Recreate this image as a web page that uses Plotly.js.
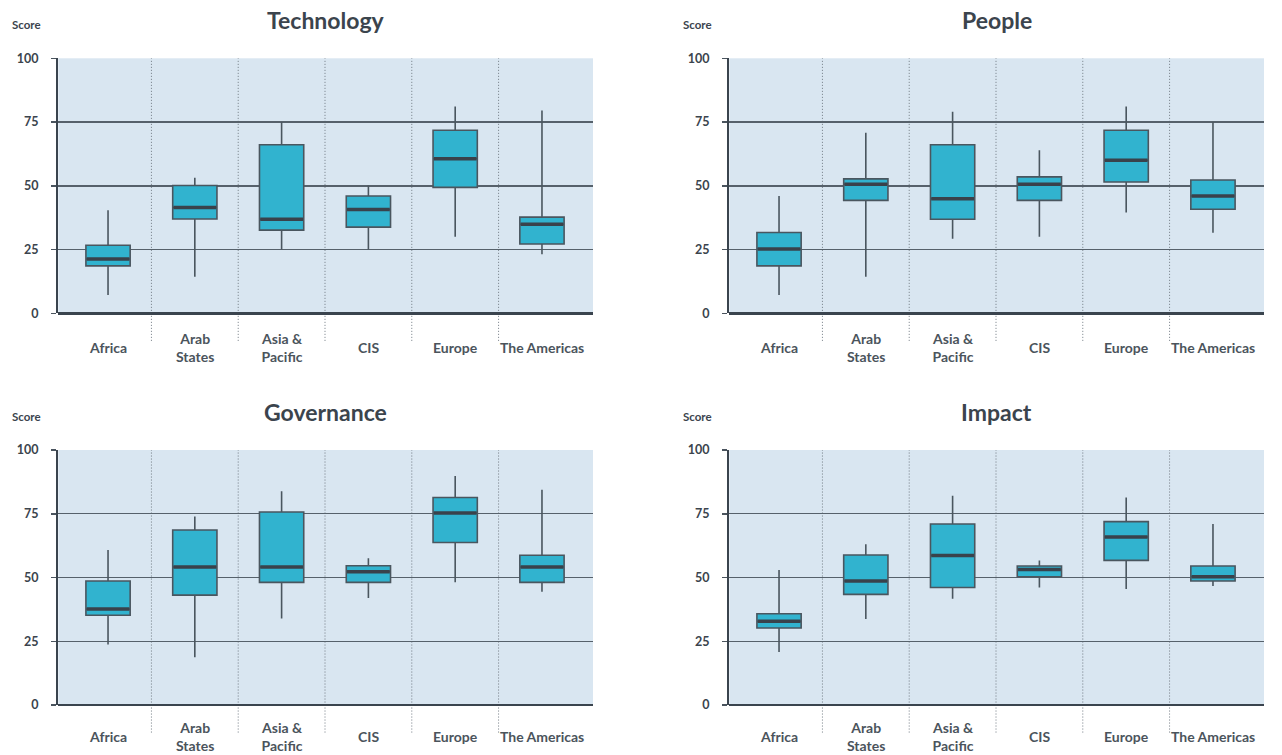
<!DOCTYPE html>
<html>
<head>
<meta charset="utf-8">
<script src="https://cdn.plot.ly/plotly-3.0.1.min.js"></script>
<style>html,body{margin:0;padding:0;background:#fff;}#chart{width:1282px;height:755px;}</style>
</head>
<body>
<div id="chart"></div>
<script>
// ---- Data ----
const regions = ["Africa", "Arab States", "Asia & Pacific", "CIS", "Europe", "The Americas"];
const regionLabels = ["Africa", "Arab<br>States", "Asia &<br>Pacific", "CIS", "Europe", "The Americas"];
const pillars = ["Technology", "People", "Governance", "Impact"];

const techMin = [7.2, 14.3, 25.0, 25.0, 30.0, 23.2];
const techQ1  = [18.6, 37.0, 32.6, 33.8, 49.4, 27.2];
const techMed = [21.3, 41.5, 36.9, 40.7, 60.6, 34.9];
const techQ3  = [26.7, 50.1, 66.1, 46.0, 71.8, 37.7];
const techMax = [40.4, 53.2, 75.0, 50.1, 81.1, 79.5];

const peopleMin = [7.2, 14.3, 29.2, 30.0, 39.5, 31.6];
const peopleQ1  = [18.6, 44.3, 36.9, 44.3, 51.5, 40.8];
const peopleMed = [25.2, 50.6, 44.9, 50.6, 60.0, 46.0];
const peopleQ3  = [31.7, 52.7, 66.1, 53.5, 71.8, 52.3];
const peopleMax = [46.0, 70.8, 79.0, 63.9, 81.1, 75.0];

const govMin = [23.7, 18.7, 33.9, 42.0, 48.1, 44.4];
const govQ1  = [35.2, 43.1, 48.1, 48.1, 63.7, 48.1];
const govMed = [37.6, 54.1, 54.1, 52.3, 75.3, 54.1];
const govQ3  = [48.6, 68.6, 75.7, 54.6, 81.4, 58.7];
const govMax = [60.8, 73.9, 83.8, 57.5, 89.8, 84.4];

const impactMin = [20.8, 33.7, 41.7, 46.1, 45.5, 46.7];
const impactQ1  = [30.2, 43.4, 46.1, 50.3, 56.7, 48.6];
const impactMed = [32.8, 48.6, 58.6, 53.1, 65.9, 50.3];
const impactQ3  = [35.8, 58.8, 71.0, 54.5, 71.9, 54.5];
const impactMax = [52.9, 63.0, 82.1, 56.7, 81.4, 71.0];

const yTicks = [0, 25, 50, 75, 100];

// ---- Build ----
const stats = [
  [techMin, techQ1, techMed, techQ3, techMax],
  [peopleMin, peopleQ1, peopleMed, peopleQ3, peopleMax],
  [govMin, govQ1, govMed, govQ3, govMax],
  [impactMin, impactQ1, impactMed, impactQ3, impactMax]
];

const FONT = "Lato, 'Open Sans', sans-serif";
const TXT = "#3b444d";
const xRange = [-0.573, 5.588];
const xDomains = [[0.04548, 0.46256], [0.56888, 0.98596], [0.04548, 0.46256], [0.56888, 0.98596]];
const yDomains = [[0.58503, 0.92278], [0.58503, 0.92278], [0.06623, 0.40397], [0.06623, 0.40397]];
const labelY = [-0.134, -0.134, -0.122, -0.122];

const traces = [];
const layout = {
  width: 1282, height: 755,
  margin: {l: 0, r: 0, t: 0, b: 0},
  paper_bgcolor: "#ffffff",
  plot_bgcolor: "#d9e6f1",
  showlegend: false,
  hovermode: false,
  font: {family: FONT, color: TXT},
  annotations: [],
  shapes: []
};

pillars.forEach((name, p) => {
  const sfx = p === 0 ? "" : String(p + 1);
  const xa = "x" + sfx, ya = "y" + sfx;
  const [mn, q1, md, q3, mx] = stats[p];

  traces.push({
    type: "box", xaxis: xa, yaxis: ya,
    x: regions, q1: q1, median: md, q3: q3, lowerfence: mn, upperfence: mx,
    width: 0.51, whiskerwidth: 0, boxpoints: false,
    fillcolor: "#31b3cf",
    line: {color: "#4a565f", width: 1.6},
    hoverinfo: "skip"
  });
  traces.push({
    type: "scatter", mode: "markers", xaxis: xa, yaxis: ya,
    x: regions, y: md,
    marker: {symbol: "line-ew", size: 30.5, color: "#39424b", line: {color: "#39424b", width: 3.5}},
    hoverinfo: "skip", cliponaxis: false
  });

  layout["xaxis" + sfx] = {
    domain: xDomains[p], anchor: ya, type: "category",
    categoryorder: "array", categoryarray: regions,
    range: xRange, showgrid: false, zeroline: false, showline: false,
    showticklabels: false, ticks: "", fixedrange: true
  };
  layout["yaxis" + sfx] = {
    domain: yDomains[p], anchor: xa, range: [0, 100],
    tickvals: yTicks, ticktext: yTicks.map(String),
    ticks: "outside", ticklen: 5, tickwidth: 1.5, tickcolor: "#4a545e",
    ticklabelstandoff: 10,
    tickfont: {family: FONT, size: 12.5, color: TXT, weight: "bold"},
    showgrid: true, gridcolor: "#56616b", gridwidth: 1.4,
    zeroline: true, zerolinecolor: "#3a444e", zerolinewidth: 2.4,
    showline: true, linecolor: "#3a444e", linewidth: 2.2,
    fixedrange: true
  };

  // separators
  for (let i = 0; i < regions.length - 1; i++) {
    const xd = (i + 0.5 - xRange[0]) / (xRange[1] - xRange[0]);
    layout.shapes.push({
      type: "line", xref: xa + " domain", yref: ya + " domain",
      x0: xd, x1: xd, y0: -0.108, y1: 1, layer: "below",
      line: {color: "#6f7881", width: 1, dash: "1px,2px"}
    });
  }

  // title
  layout.annotations.push({
    xref: xa + " domain", yref: ya + " domain", x: 0.5, y: 1.15,
    xanchor: "center", yanchor: "middle", showarrow: false,
    text: "<b>" + name + "</b>", font: {family: FONT, size: 23, color: TXT}
  });
  // Score label
  layout.annotations.push({
    xref: xa + " domain", yref: ya + " domain", x: -0.091, y: 1.131,
    xanchor: "left", yanchor: "middle", showarrow: false,
    text: "<b>Score</b>", font: {family: FONT, size: 11.5, color: TXT}
  });
  // category labels
  regionLabels.forEach((lab, i) => {
    layout.annotations.push({
      xref: xa, yref: ya + " domain", x: i, y: labelY[p],
      xanchor: "center", yanchor: "middle", showarrow: false, align: "center",
      text: "<b>" + lab + "</b>", font: {family: FONT, size: 14, color: "#4b545c"}
    });
  });
});

Plotly.newPlot("chart", traces, layout, {displayModeBar: false, staticPlot: true});
</script>
</body>
</html>
